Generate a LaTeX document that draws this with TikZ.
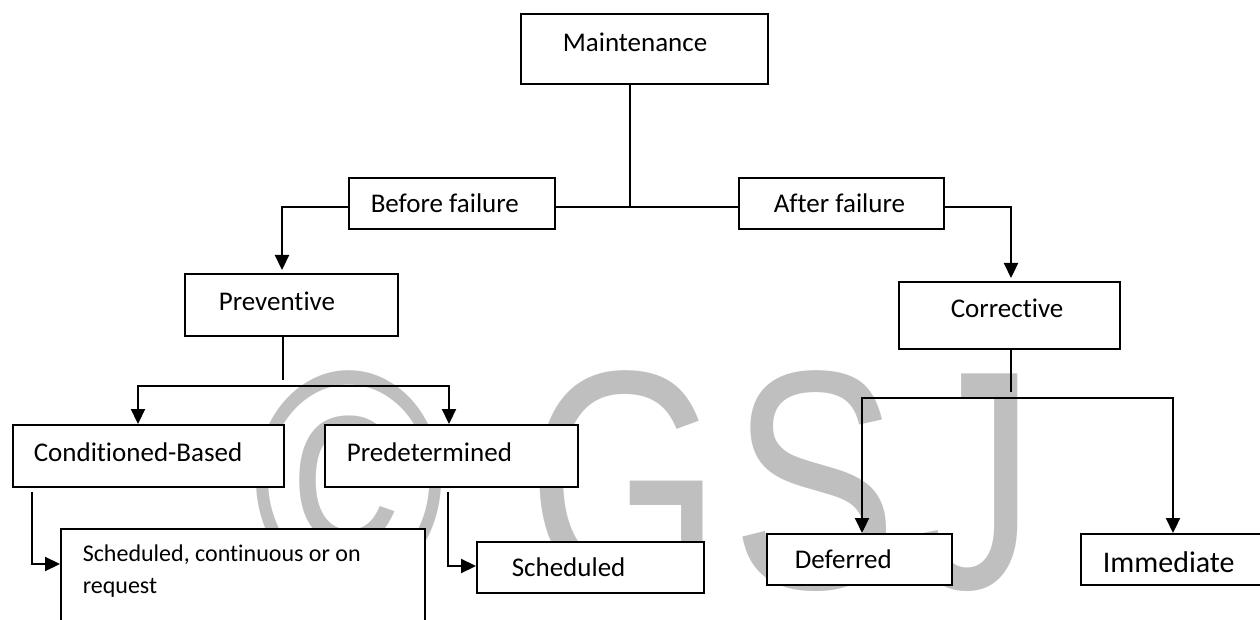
\documentclass[tikz,border=0pt]{standalone}
\usepackage{fontspec}
\usepackage{graphicx}
\setmainfont{Carlito}[Ligatures={NoCommon}]
\newfontfamily\wmfont{Liberation Sans}
\usetikzlibrary{arrows.meta}
\definecolor{wmgray}{RGB}{191,191,191}
\tikzset{
  box/.style={
    rectangle,
    draw=black,
    line width=1.6pt,
    fill=white,
    anchor=north west,
    align=left,
    inner ysep=0pt,
    text height=18pt,
    text depth=0pt,
    execute at begin node={\spaceskip=0pt\xspaceskip=0pt\relax},
    font=\fontsize{27pt}{33pt}\selectfont
  },
  link/.style={
    line width=1.4pt
  },
  arrow/.style={
    -{Triangle[length=15pt,width=14pt]},
    line width=2.2pt
  }
}

\begin{document}
\begin{tikzpicture}[x=1pt,y=-1pt]
\clip (0,0) rectangle (1260,620);

% watermark behind the chart
\node[anchor=base west, inner sep=0pt, text=wmgray, font=\wmfont\fontsize{312pt}{312pt}\selectfont] (wmark) at (252,588)
  {\scalebox{0.84}[1]{©}\kern82pt\scalebox{0.8}[1]{G}\kern10pt\scalebox{0.8}[1]{S}\kern14pt\scalebox{0.8}[1]{J}};

% boxes
\node[box, minimum width=247pt, minimum height=70pt, text width=163pt, inner xsep=42pt, text depth=12pt] (maint) at (520,13) {Maintenance};
\node[box, minimum width=206pt, minimum height=51pt, text width=162pt, inner xsep=22pt] (before) at (348,177) {Before failure};
\node[box, minimum width=205pt, minimum height=51pt, text width=135pt, inner xsep=35pt] (after) at (738,177) {After failure};
\node[box, minimum width=213pt, minimum height=62pt, text width=145pt, inner xsep=34pt, text depth=6pt] (prev) at (184,273) {Preventive};
\node[box, minimum width=221pt, minimum height=67pt, text width=117pt, inner xsep=52pt, text depth=13pt] (corr) at (898,281) {Corrective};
\node[box, minimum width=271pt, minimum height=62pt, text width=229pt, inner xsep=21pt, text depth=6pt] (cond) at (12,424) {Conditioned-Based};
\node[box, minimum width=253pt, minimum height=62pt, text width=209pt, inner xsep=22pt, text depth=6pt] (pred) at (324,424) {Predetermined};
\node[box, text width=320pt, inner xsep=22pt, inner ysep=17pt, text height=16pt, text depth=100pt, font=\fontsize{24pt}{32pt}\selectfont] (schedco) at (60,528) {Scheduled, continuous or on\\request};
\node[box, minimum width=227pt, minimum height=51pt, text width=157pt, inner xsep=35pt] (sched) at (476,541) {Scheduled};
\node[box, minimum width=185pt, minimum height=51pt, text width=129pt, inner xsep=28pt] (defer) at (766,533) {Deferred};
\node[box, minimum width=220pt, minimum height=51pt, text width=176pt, inner xsep=22pt, text height=27pt, font=\fontsize{30pt}{36pt}\selectfont] (immed) at (1080,533) {Immediate};

% top level
\coordinate (mj) at (630,207);
\coordinate (ldrop) at (282,207);
\coordinate (rdrop) at (1011,207);
\draw[link] (maint.south -| mj) -- (mj);
\draw[link] (mj -| before.east) -- (mj -| after.west);
\draw[arrow, shorten >=3pt] (mj -| before.west) -- (ldrop) -- (ldrop |- prev.north);
\draw[arrow, shorten >=3pt] (mj -| after.east) -- (rdrop) -- (rdrop |- corr.north);

% preventive branch
\coordinate (pstub) at (283,380);
\coordinate (psplit) at (283,386);
\coordinate (ca) at (138,386);
\coordinate (pa) at (449,386);
\draw[link] (prev.south -| pstub) -- (pstub);
\draw[arrow] (psplit) -- (ca) -- (ca |- cond.north);
\draw[arrow] (psplit) -- (pa) -- (pa |- pred.north);

\coordinate (cb) at (32,564);
\coordinate (pb) at (448,566);
\draw[arrow, shorten <=4pt] (cond.south -| cb) -- (cb) -- (cb -| schedco.west);
\draw[arrow, shorten <=4pt] (pred.south -| pb) -- (pb) -- (pb -| sched.west);

% corrective branch
\coordinate (cstub) at (1011,392);
\coordinate (csplit) at (1011,398);
\coordinate (da) at (862,398);
\coordinate (ia) at (1173,398);
\draw[link] (corr.south -| cstub) -- (cstub);
\draw[arrow] (csplit) -- (da) -- (da |- defer.north);
\draw[arrow] (csplit) -- (ia) -- (ia |- immed.north);

\end{tikzpicture}
\end{document}
